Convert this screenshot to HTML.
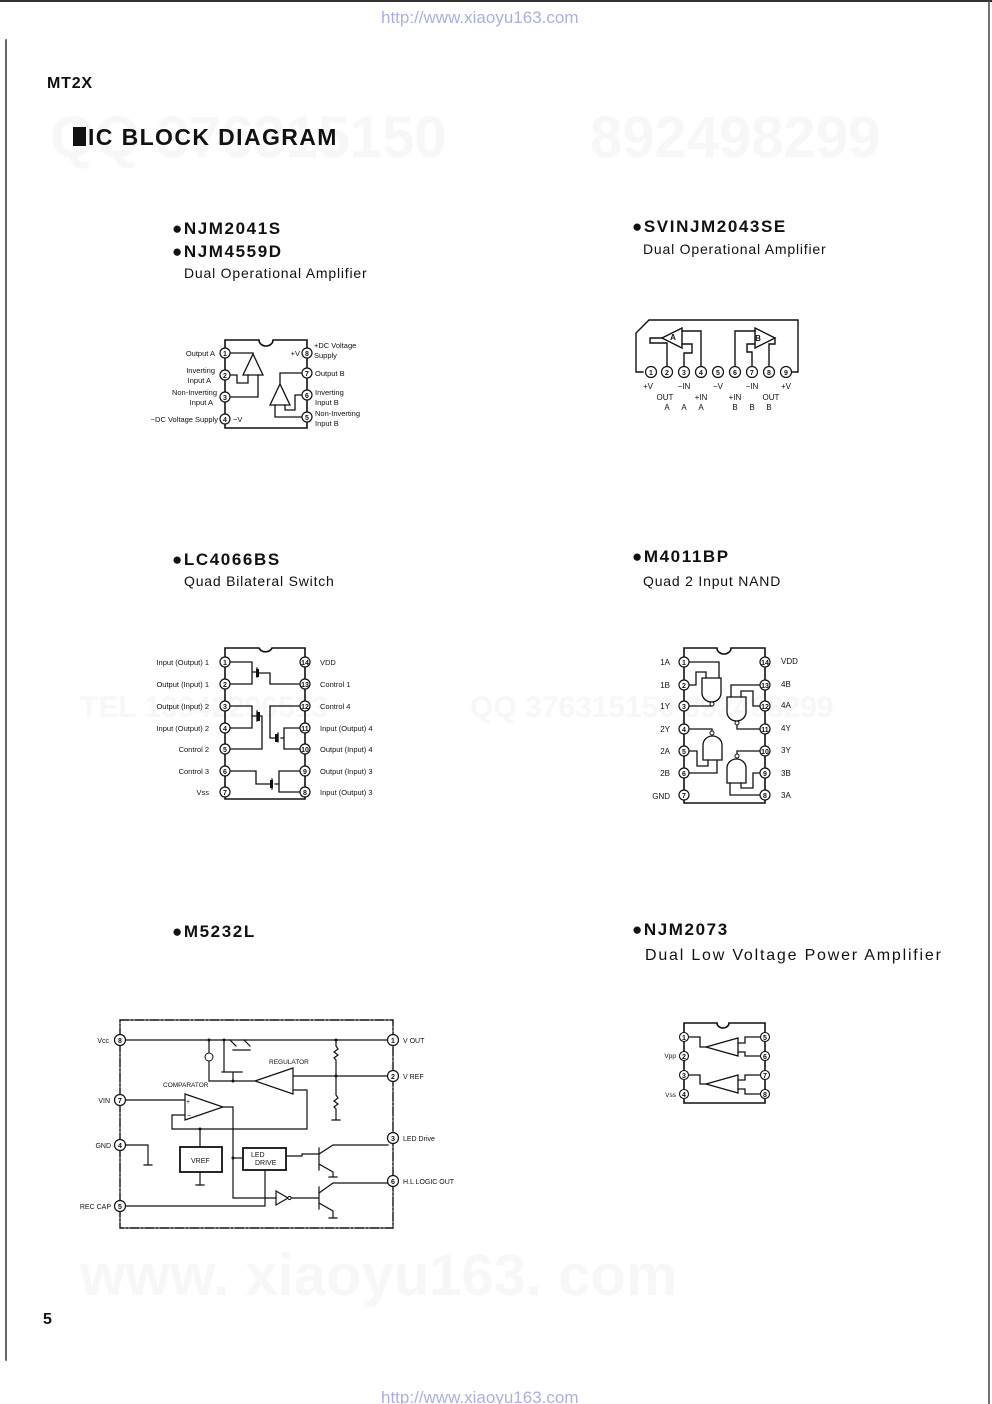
<!DOCTYPE html>
<html><head><meta charset="utf-8">
<style>
html,body{margin:0;padding:0;background:#fff;}
svg{display:block;}
.t{font-family:"Liberation Sans",sans-serif;fill:#111;}
.b{font-weight:bold;}
.s{font-size:7.5px;}
.pn{font-size:7px;font-weight:bold;text-anchor:middle;}
.h{letter-spacing:1.6px;}
.d{letter-spacing:0.8px;}
</style></head><body>
<svg width="992" height="1404" viewBox="0 0 992 1404" xmlns="http://www.w3.org/2000/svg" stroke-linecap="square">
<line x1="0" y1="1" x2="992" y2="1" stroke="#333" stroke-width="2"/>
<line x1="6" y1="40" x2="6" y2="1360" stroke="#333" stroke-width="1.5"/>
<line x1="989" y1="0" x2="989" y2="1404" stroke="#444" stroke-width="1.5"/>
<g fill="#f7f7f7" font-family="Liberation Sans,sans-serif" font-weight="bold">
<text x="50" y="157" font-size="58">QQ 376315150</text>
<text x="590" y="157" font-size="58">892498299</text>
<text x="80" y="1295" font-size="58">www. xiaoyu163. com</text>
<text x="80" y="717" font-size="30">TEL 13942296513</text>
<text x="470" y="717" font-size="30">QQ 376315150 892498299</text>
</g>
<text x="381" y="23" font-family="Liberation Sans,sans-serif" font-size="17" fill="#aab0e0">http://www.xiaoyu163.com</text>
<text x="381" y="1403" font-family="Liberation Sans,sans-serif" font-size="17" fill="#aab0e0">http://www.xiaoyu163.com</text>

<text class="t b" x="47" y="88" font-size="16" letter-spacing="0.8">MT2X</text>
<rect x="73" y="127" width="13" height="19" fill="#111"/>
<text class="t b" x="88" y="145" font-size="23" letter-spacing="1.4">IC BLOCK DIAGRAM</text>
<text class="t b" x="43" y="1324" font-size="16">5</text>

<g class="t">
<text x="172" y="234" font-size="17" class="b h">●NJM2041S</text>
<text x="172" y="257" font-size="17" class="b h">●NJM4559D</text>
<text x="184" y="278" font-size="14" class="d">Dual Operational Amplifier</text>
<text x="632" y="232" font-size="17" class="b h">●SVINJM2043SE</text>
<text x="643" y="254" font-size="14" class="d">Dual Operational Amplifier</text>
<text x="172" y="565" font-size="17" class="b h">●LC4066BS</text>
<text x="184" y="586" font-size="14" class="d">Quad Bilateral Switch</text>
<text x="632" y="562" font-size="17" class="b h">●M4011BP</text>
<text x="643" y="586" font-size="14" class="d">Quad 2 Input NAND</text>
<text x="172" y="937" font-size="17" class="b h">●M5232L</text>
<text x="632" y="935" font-size="17" class="b h">●NJM2073</text>
<text x="645" y="960" font-size="16" letter-spacing="1.8">Dual Low Voltage Power Amplifier</text>
</g>

<g stroke="#111" fill="none" stroke-width="1.3">
<path d="M225 340 H259 A7 6 0 0 0 273 340 H307 V428 H225 Z" stroke-width="1.6"/>
<path d="M243 375 L253 354 L263 375 Z"/>
<path d="M230 353 H253 V354"/>
<path d="M230 375 H237 V383 H248 V375"/>
<path d="M230 397 H258 V375"/>
<path d="M270 405 L280 384 L290 405 Z"/>
<path d="M302 373 H280 V384"/>
<path d="M302 395 H295 V410 H285 V405"/>
<path d="M302 417 H275 V405"/>
</g>
<g fill="#fff" stroke="#111" stroke-width="1.2">
<circle cx="225" cy="353" r="5"/><circle cx="225" cy="375" r="5"/><circle cx="225" cy="397" r="5"/><circle cx="225" cy="419" r="5"/>
<circle cx="307" cy="353" r="5"/><circle cx="307" cy="373" r="5"/><circle cx="307" cy="395" r="5"/><circle cx="307" cy="417" r="5"/>
</g>
<g class="t pn"><text x="225" y="356">1</text><text x="225" y="378">2</text><text x="225" y="400">3</text><text x="225" y="422">4</text>
<text x="307" y="356">8</text><text x="307" y="376">7</text><text x="307" y="398">6</text><text x="307" y="420">5</text></g>
<g class="t s" text-anchor="end">
<text x="215" y="356">Output A</text><text x="215" y="373">Inverting</text><text x="211" y="383">Input A</text>
<text x="217" y="395">Non-Inverting</text><text x="213" y="405">Input A</text>
<text x="218" y="422">−DC Voltage Supply</text><text x="300" y="356">+V</text></g>
<g class="t s"><text x="233" y="422">−V</text>
<text x="314" y="348">+DC Voltage</text><text x="314" y="358">Supply</text><text x="315" y="376">Output B</text>
<text x="315" y="395">Inverting</text><text x="315" y="405">Input B</text><text x="315" y="416">Non-Inverting</text><text x="315" y="426">Input B</text></g>

<g stroke="#111" fill="none" stroke-width="1.4">
<path d="M643 372 H636 V333 L649 320 H798 V372 H792"/>
<path d="M662 338 L682 328 L682 348 Z"/>
<path d="M667 367 V343 H650 V338 H662"/>
<path d="M684 367 V353 H692 V344 H682"/>
<path d="M701 367 V331 H682"/>
<path d="M775 338 L755 328 L755 348 Z"/>
<path d="M769 367 V344 H775 V338"/>
<path d="M752 367 V352 H747 V344 H755"/>
<path d="M735 367 V331 H755"/>
</g>
<g fill="#fff" stroke="#111" stroke-width="1.2">
<circle cx="651" cy="372" r="5.5"/><circle cx="667" cy="372" r="5.5"/><circle cx="684" cy="372" r="5.5"/><circle cx="701" cy="372" r="5.5"/><circle cx="718" cy="372" r="5.5"/><circle cx="735" cy="372" r="5.5"/><circle cx="752" cy="372" r="5.5"/><circle cx="769" cy="372" r="5.5"/><circle cx="786" cy="372" r="5.5"/>
</g>
<g class="t pn"><text x="651" y="375">1</text><text x="667" y="375">2</text><text x="684" y="375">3</text><text x="701" y="375">4</text><text x="718" y="375">5</text><text x="735" y="375">6</text><text x="752" y="375">7</text><text x="769" y="375">8</text><text x="786" y="375">9</text>
<text x="673" y="340" font-size="8">A</text><text x="758" y="341" font-size="8">B</text></g>
<g class="t" font-size="8" text-anchor="middle">
<text x="648" y="389">+V</text><text x="684" y="389">−IN</text><text x="718" y="389">−V</text><text x="752" y="389">−IN</text><text x="786" y="389">+V</text>
<text x="665" y="400">OUT</text><text x="701" y="400">+IN</text><text x="735" y="400">+IN</text><text x="771" y="400">OUT</text>
<text x="667" y="410">A</text><text x="684" y="410">A</text><text x="701" y="410">A</text><text x="735" y="410">B</text><text x="752" y="410">B</text><text x="769" y="410">B</text></g>

<g stroke="#111" fill="none" stroke-width="1.3">
<path d="M225 648 H259 A7 6 0 0 0 272 648 H305 V799 H225 Z" stroke-width="1.6"/>
<path d="M230 662 H252 V670 M252 668 V677 M230 684 H252 V675 M252 672 H256 M257 668 V677 M259 673 H270 V684 H300"/>
<path d="M230 706 H252 V714 M252 712 V721 M230 728 H252 V719 M252 716 H256 M257 711 V721 M259 716 H262 V749 H230"/>
<path d="M300 706 H270 V738 H276 M278 733 V742 M281 738 H284 V728 H300 M284 738 V749 H300"/>
<path d="M230 771 H256 V784 H270 M272 779 V789 M275 784 H279 V771 H300 M279 784 V792 H300"/>
</g>
<g fill="#111"><rect x="256" y="669" width="3" height="8"/><rect x="257" y="712" width="3" height="9"/><rect x="275" y="734" width="3" height="8"/><rect x="270" y="780" width="3" height="8"/></g>
<g fill="#fff" stroke="#111" stroke-width="1.2">
<circle cx="225" cy="662" r="5"/><circle cx="225" cy="684" r="5"/><circle cx="225" cy="706" r="5"/><circle cx="225" cy="728" r="5"/><circle cx="225" cy="749" r="5"/><circle cx="225" cy="771" r="5"/><circle cx="225" cy="792" r="5"/>
<circle cx="305" cy="662" r="5"/><circle cx="305" cy="684" r="5"/><circle cx="305" cy="706" r="5"/><circle cx="305" cy="728" r="5"/><circle cx="305" cy="749" r="5"/><circle cx="305" cy="771" r="5"/><circle cx="305" cy="792" r="5"/>
</g>
<g class="t pn" font-size="6"><text x="225" y="665">1</text><text x="225" y="687">2</text><text x="225" y="709">3</text><text x="225" y="731">4</text><text x="225" y="752">5</text><text x="225" y="774">6</text><text x="225" y="795">7</text>
<text x="305" y="665">14</text><text x="305" y="687">13</text><text x="305" y="709">12</text><text x="305" y="731">11</text><text x="305" y="752">10</text><text x="305" y="774">9</text><text x="305" y="795">8</text></g>
<g class="t" font-size="7.5" text-anchor="end">
<text x="209" y="665">Input (Output) 1</text><text x="209" y="687">Output (Input) 1</text><text x="209" y="709">Output (Input) 2</text><text x="209" y="731">Input (Output) 2</text><text x="209" y="752">Control 2</text><text x="209" y="774">Control 3</text><text x="209" y="795">Vss</text></g>
<g class="t" font-size="7.5">
<text x="320" y="665">VDD</text><text x="320" y="687">Control 1</text><text x="320" y="709">Control 4</text><text x="320" y="731">Input (Output) 4</text><text x="320" y="752">Output (Input) 4</text><text x="320" y="774">Output (Input) 3</text><text x="320" y="795">Input (Output) 3</text></g>

<g stroke="#111" fill="none" stroke-width="1.3">
<path d="M684 648 H717 A7 6 0 0 0 731 648 H765 V803 H684 Z" stroke-width="1.6"/>
<path d="M702 693 V678 H721 V693 A9.5 9 0 0 1 702 693 Z"/>
<path d="M689 662 H719 V678 M689 685 H696 V672 H706 V678 M689 706 H712 V704"/>
<path d="M727 712 V697 H746 V712 A9.5 9 0 0 1 727 712 Z"/>
<path d="M760 685 H731 V697 M760 706 H753 V691 H741 V697 M760 729 H737 V723"/>
<path d="M703 760 V745 A9.5 9 0 0 1 722 745 V760 Z"/>
<path d="M689 729 H712 V733 M689 751 H697 V766 H708 V760 M689 773 H717 V760"/>
<path d="M727 783 V768 A9.5 9 0 0 1 746 768 V783 Z"/>
<path d="M760 751 H737 V756 M760 773 H753 V788 H741 V783 M760 795 H730 V783"/>
</g>
<g fill="#fff" stroke="#111" stroke-width="1"><circle cx="712" cy="704" r="2"/><circle cx="737" cy="723" r="2"/><circle cx="712" cy="733" r="2"/><circle cx="737" cy="756" r="2"/></g>
<g fill="#fff" stroke="#111" stroke-width="1.2">
<circle cx="684" cy="662" r="5"/><circle cx="684" cy="685" r="5"/><circle cx="684" cy="706" r="5"/><circle cx="684" cy="729" r="5"/><circle cx="684" cy="751" r="5"/><circle cx="684" cy="773" r="5"/><circle cx="684" cy="795" r="5"/>
<circle cx="765" cy="662" r="5"/><circle cx="765" cy="685" r="5"/><circle cx="765" cy="706" r="5"/><circle cx="765" cy="729" r="5"/><circle cx="765" cy="751" r="5"/><circle cx="765" cy="773" r="5"/><circle cx="765" cy="795" r="5"/>
</g>
<g class="t pn" font-size="6"><text x="684" y="665">1</text><text x="684" y="688">2</text><text x="684" y="709">3</text><text x="684" y="732">4</text><text x="684" y="754">5</text><text x="684" y="776">6</text><text x="684" y="798">7</text>
<text x="765" y="665">14</text><text x="765" y="688">13</text><text x="765" y="709">12</text><text x="765" y="732">11</text><text x="765" y="754">10</text><text x="765" y="776">9</text><text x="765" y="798">8</text></g>
<g class="t" font-size="8" text-anchor="end"><text x="670" y="665">1A</text><text x="670" y="688">1B</text><text x="670" y="709">1Y</text><text x="670" y="732">2Y</text><text x="670" y="754">2A</text><text x="670" y="776">2B</text><text x="670" y="799">GND</text></g>
<g class="t" font-size="8"><text x="781" y="664">VDD</text><text x="781" y="687">4B</text><text x="781" y="708">4A</text><text x="781" y="731">4Y</text><text x="781" y="753">3Y</text><text x="781" y="776">3B</text><text x="781" y="798">3A</text></g>

<g stroke="#111" fill="none" stroke-width="1.2">
<rect x="120" y="1020" width="273" height="208" stroke-dasharray="9,2,2,2" stroke-width="1.4"/>
<path d="M125 1040 H388"/>
<path d="M209 1040 V1052 M209 1062 V1081 H233 H255"/>
<path d="M224 1040 V1072 M222 1072 H242 M233 1072 V1081"/>
<path d="M233 1050 H250 M244 1040 L250 1046 M230 1040 L236 1046"/>
<path d="M255 1081 L293 1068 L293 1094 Z"/>
<path d="M293 1076 H388"/>
<path d="M293 1090 H307 V1129 H172 V1115 H185"/>
<path d="M336 1040 V1046 L338 1049 L334 1052 L338 1055 L334 1058 L336 1060 V1095 L338 1098 L334 1101 L338 1104 L334 1107 L336 1109 V1120 M332 1120 H340"/>
<path d="M125 1100 H185"/>
<path d="M185 1094 L223 1107 L185 1120 Z"/>
<path d="M223 1107 H233 V1198 H276"/>
<path d="M200 1129 V1147"/>
<rect x="180" y="1147" width="42" height="25" stroke-width="1.8"/>
<path d="M200 1172 V1185 M196 1185 H204"/>
<path d="M125 1145 H148 V1165 M144 1165 H152"/>
<rect x="243" y="1148" width="43" height="22" stroke-width="1.8"/>
<path d="M233 1158 H243"/>
<path d="M286 1156 H302 V1154 H319"/>
<path d="M319 1148 V1170 M319 1154 L333 1145 H388 M319 1164 L333 1172 V1177 M329 1177 H337"/>
<path d="M125 1206 H265 V1170"/>
<path d="M276 1191 L288 1198 L276 1205 Z"/>
<path d="M291 1198 H319 M319 1187 V1209 M319 1193 L333 1183 H388 M319 1203 L333 1211 V1218 M329 1218 H337"/>
</g>
<g fill="#111"><circle cx="233" cy="1081" r="1.5"/><circle cx="224" cy="1040" r="1.5"/><circle cx="209" cy="1040" r="1.5"/><circle cx="336" cy="1040" r="1.5"/><circle cx="336" cy="1076" r="1.5"/><circle cx="233" cy="1158" r="1.5"/><circle cx="200" cy="1129" r="1.5"/></g>
<g fill="#fff" stroke="#111" stroke-width="1"><circle cx="209" cy="1057" r="4"/><circle cx="289.5" cy="1198" r="1.6"/></g>
<g fill="#fff" stroke="#111" stroke-width="1.2">
<circle cx="120" cy="1040" r="5.5"/><circle cx="120" cy="1100" r="5.5"/><circle cx="120" cy="1145" r="5.5"/><circle cx="120" cy="1206" r="5.5"/>
<circle cx="393" cy="1040" r="5.5"/><circle cx="393" cy="1076" r="5.5"/><circle cx="393" cy="1138" r="5.5"/><circle cx="393" cy="1181" r="5.5"/>
</g>
<g class="t pn"><text x="120" y="1043">8</text><text x="120" y="1103">7</text><text x="120" y="1148">4</text><text x="120" y="1209">5</text>
<text x="393" y="1043">1</text><text x="393" y="1079">2</text><text x="393" y="1141">3</text><text x="393" y="1184">6</text></g>
<g class="t" font-size="7" text-anchor="end"><text x="109" y="1043">Vcc</text><text x="110" y="1103">VIN</text><text x="111" y="1148">GND</text><text x="111" y="1209">REC CAP</text></g>
<g class="t" font-size="7"><text x="403" y="1043">V OUT</text><text x="403" y="1079">V REF</text><text x="403" y="1141">LED Drive</text><text x="403" y="1184">H.L LOGIC OUT</text>
<text x="269" y="1064" font-size="6.5">REGULATOR</text><text x="163" y="1087" font-size="6.5">COMPARATOR</text>
<text x="191" y="1163">VREF</text><text x="251" y="1157">LED</text><text x="255" y="1165">DRIVE</text>
<text x="186" y="1104" font-size="7">+</text><text x="187" y="1118" font-size="7">−</text></g>

<g stroke="#111" fill="none" stroke-width="1.3">
<path d="M684 1023 H717 A6 5 0 0 0 729 1023 H765 V1103 H684 Z" stroke-width="1.6"/>
<path d="M706 1047 L738 1038 L738 1056 Z"/>
<path d="M689 1037 H700 V1047 H706 M760 1037 H745 V1043 H738 M760 1056 H745 V1052 H738"/>
<path d="M706 1084 L738 1075 L738 1093 Z"/>
<path d="M689 1075 H700 V1084 H706 M760 1075 H745 V1080 H738 M760 1094 H745 V1089 H738"/>
</g>
<g fill="#fff" stroke="#111" stroke-width="1.1">
<circle cx="684" cy="1037" r="4.5"/><circle cx="684" cy="1056" r="4.5"/><circle cx="684" cy="1075" r="4.5"/><circle cx="684" cy="1094" r="4.5"/>
<circle cx="765" cy="1037" r="4.5"/><circle cx="765" cy="1056" r="4.5"/><circle cx="765" cy="1075" r="4.5"/><circle cx="765" cy="1094" r="4.5"/>
</g>
<g class="t pn" font-size="6.5"><text x="684" y="1040">1</text><text x="684" y="1059">2</text><text x="684" y="1078">3</text><text x="684" y="1097">4</text>
<text x="765" y="1040">5</text><text x="765" y="1059">6</text><text x="765" y="1078">7</text><text x="765" y="1097">8</text></g>
<g class="t" font-size="6.5" text-anchor="end"><text x="676" y="1058">Vpp</text><text x="676" y="1097">Vss</text></g>
</svg>
</body></html>
